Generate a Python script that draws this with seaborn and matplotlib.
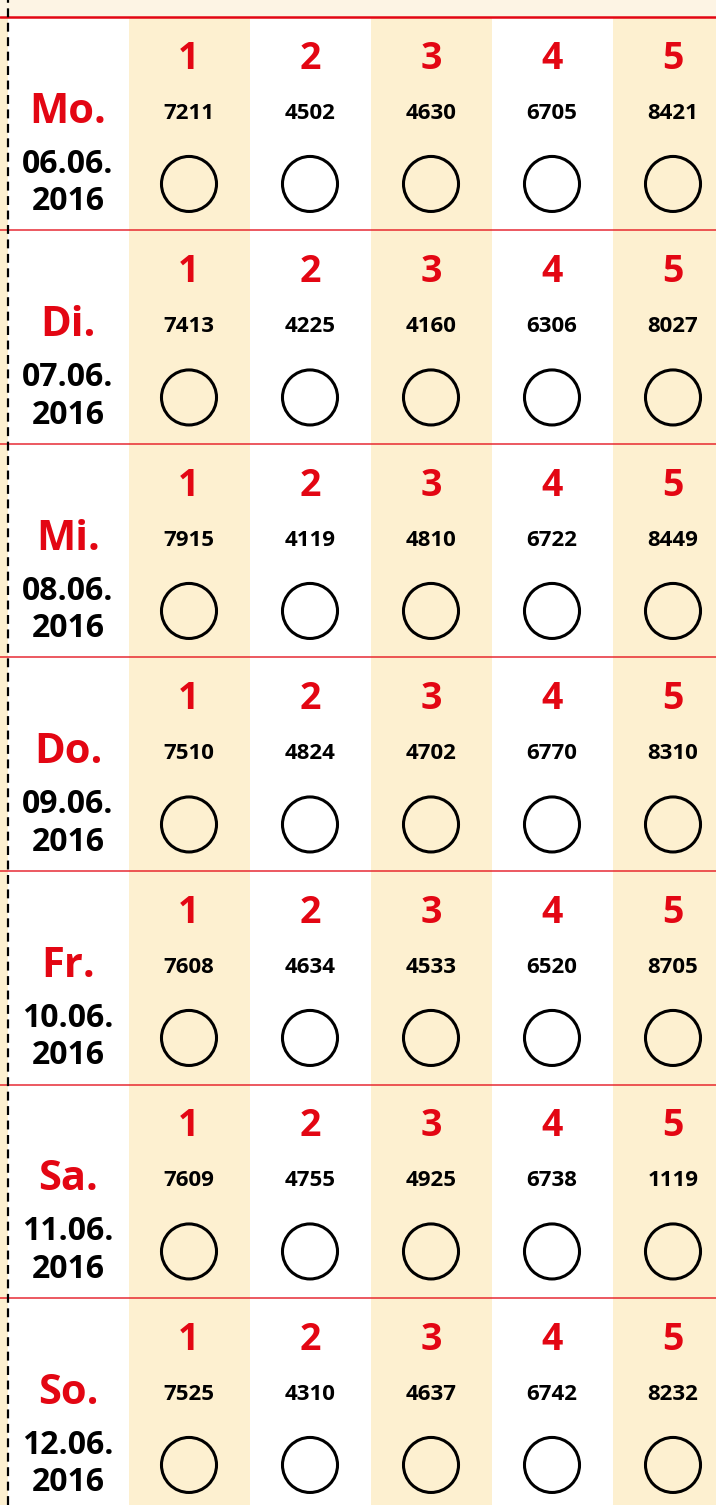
import numpy as np
import pandas as pd
import matplotlib
matplotlib.use("Agg")
import matplotlib.pyplot as plt
import seaborn as sns

days = ["Mo.", "Di.", "Mi.", "Do.", "Fr.", "Sa.", "So."]
dates = ["06.06.", "07.06.", "08.06.", "09.06.", "10.06.", "11.06.", "12.06."]
year = "2016"
numbers = [1, 2, 3, 4, 5]
values = [
    [7211, 4502, 4630, 6705, 8421],
    [7413, 4225, 4160, 6306, 8027],
    [7915, 4119, 4810, 6722, 8449],
    [7510, 4824, 4702, 6770, 8310],
    [7608, 4634, 4533, 6520, 8705],
    [7609, 4755, 4925, 6738, 1119],
    [7525, 4310, 4637, 6742, 8232],
]

RED = "#e30613"
CREAM = "#fdf0d0"
CREAM_TOP = "#fdf4e4"

sns.set_theme(style="white")
plt.rcParams["font.family"] = ["Open Sans", "DejaVu Sans"]

fig = plt.figure(figsize=(7.16, 15.05), dpi=100)
ax = fig.add_axes([0, 0, 1, 1])

# pixel geometry -> data units (column width 121px, row height 213.5px)
col_w, row_h = 121.0, 213.5
xlim = (1 - 189 / col_w, 1 + (716 - 189) / col_w)
ylim = ((1505 - 17) / row_h, -17 / row_h)

# background stripes
ax.axvspan(xlim[0], xlim[0] + 7.5 / col_w, color=CREAM, lw=0, zorder=0)
for n in numbers:
    if n % 2 == 1:
        ax.axvspan(n - 0.5, n + 0.5, color=CREAM, lw=0, zorder=0)
ax.axhspan(ylim[1], 0, color=CREAM_TOP, lw=0, zorder=1)

# separators
ax.axhline(0, color=RED, lw=1.8, zorder=2)
for r in range(1, len(days)):
    ax.axhline(r, color=RED, lw=1.1, alpha=0.85, zorder=2)
ax.axvline(xlim[0] + 8.5 / col_w, color="black", lw=1.6, ls=(0, (4, 2.5)), zorder=3)

# circles
df = pd.DataFrame(
    [(n, r + 0.782) for r in range(len(days)) for n in numbers], columns=["col", "row"]
)
sns.scatterplot(data=df, x="col", y="row", ax=ax, s=1570, marker="o",
                facecolor="none", edgecolor="black", linewidth=2.2, zorder=4)
ax.set_xlim(*xlim)
ax.set_ylim(*ylim)
ax.axis("off")

for r, day in enumerate(days):
    ax.text(0, r + 0.445, day, color=RED, fontsize=30, fontweight="bold",
            ha="center", va="center")
    ax.text(0, r + 0.69, dates[r], color="black", fontsize=23, fontweight="bold",
            ha="center", va="center")
    ax.text(0, r + 0.866, year, color="black", fontsize=23, fontweight="bold",
            ha="center", va="center")
    for n, v in zip(numbers, values[r]):
        ax.text(n, r + 0.195, str(n), color=RED, fontsize=27, fontweight="bold",
                ha="center", va="center")
        ax.text(n, r + 0.45, str(v), color="black", fontsize=16, fontweight="bold",
                ha="center", va="center")

fig.savefig("out.png", dpi=100)
